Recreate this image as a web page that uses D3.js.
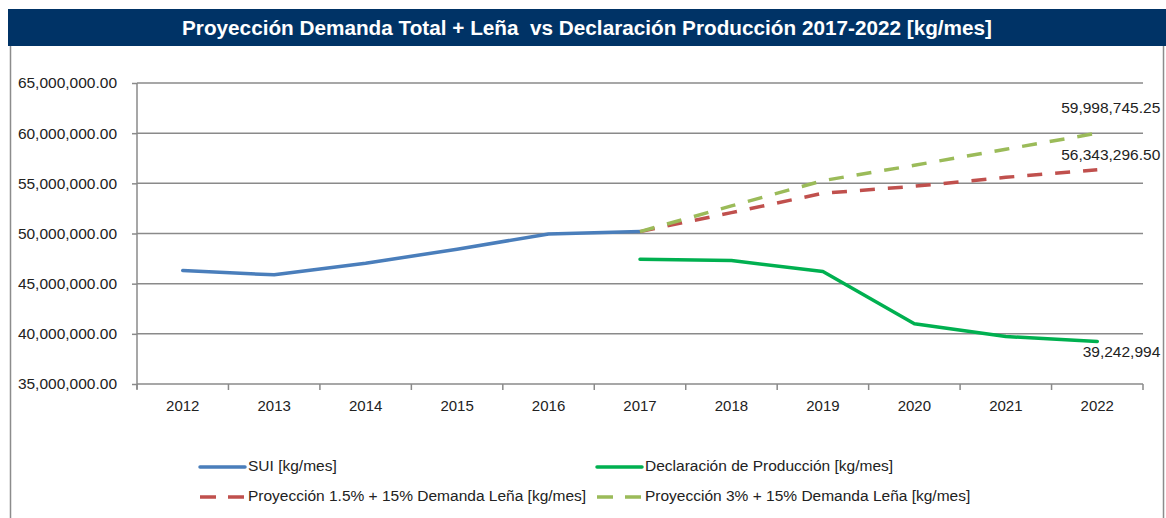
<!DOCTYPE html>
<html><head><meta charset="utf-8">
<script src="https://cdn.jsdelivr.net/npm/d3@7"></script>
<style>
html,body{margin:0;padding:0;background:#fff;}
svg{display:block;}
text{font-family:"Liberation Sans",Arial,sans-serif;}
</style></head>
<body>
<svg id="c" width="1166" height="518"></svg>
<script>
const years = [2012,2013,2014,2015,2016,2017,2018,2019,2020,2021,2022];
const sui = [46310000,45880000,47040000,48430000,49960000,50190000,null,null,null,null,null];
const declaracion = [null,null,null,null,null,47440000,47300000,46210000,41000000,39730000,39242994];
const proy15 = [null,null,null,null,null,50190000,52080000,54010000,54710000,55600000,56343296.50];
const proy3 = [null,null,null,null,null,50190000,52750000,55270000,56800000,58400000,59998745.25];
const yTicks = [35000000,40000000,45000000,50000000,55000000,60000000,65000000];
const titleText = "Proyección Demanda Total + Leña  vs Declaración Producción 2017-2022 [kg/mes]";
const endLabels = [
  {series:"proy3", text:"59,998,745.25", dy:-24},
  {series:"proy15", text:"56,343,296.50", dy:-14},
  {series:"declaracion", text:"39,242,994", dy:11}
];

const series = [
  {key:"sui", name:"SUI [kg/mes]", values:sui, color:"#4A7EBB", dash:null},
  {key:"declaracion", name:"Declaración de Producción [kg/mes]", values:declaracion, color:"#00B050", dash:null},
  {key:"proy15", name:"Proyección 1.5% + 15% Demanda Leña [kg/mes]", values:proy15, color:"#C0504D", dash:"15,13"},
  {key:"proy3", name:"Proyección 3% + 15% Demanda Leña [kg/mes]", values:proy3, color:"#9BBB59", dash:"15,13"}
];
const drawOrder = ["sui","proy15","proy3","declaracion"];

const svg = d3.select("#c");
const FS = 15.5;

// frame
svg.append("rect").attr("x",10.5).attr("y",40).attr("width",1153).attr("height",490)
  .attr("fill","#fff").attr("stroke","#8c8c8c").attr("stroke-width",1.5);
// header
svg.append("rect").attr("x",8).attr("y",9).attr("width",1158).attr("height",37).attr("fill","#003366");
svg.append("text").attr("x",587).attr("y",35).attr("text-anchor","middle")
  .attr("fill","#fff").attr("font-weight","bold").attr("font-size",20)
  .attr("textLength",810).attr("lengthAdjust","spacingAndGlyphs")
  .style("white-space","pre").text(titleText);

const x = d3.scaleBand().domain(years).range([137,1143]).padding(0);
const cx = d => x(d) + x.bandwidth()/2;
const y = d3.scaleLinear().domain([35000000,65000000]).range([384,83]);

// gridlines
svg.append("g").selectAll("line").data(yTicks.slice(1)).join("line")
  .attr("x1",137).attr("x2",1143).attr("y1",d=>y(d)).attr("y2",d=>y(d))
  .attr("stroke","#8a8a8a").attr("stroke-width",1.5);

const fmt = d3.format(",.2f");
const yAxis = svg.append("g").attr("transform","translate(137,0)")
  .call(d3.axisLeft(y).tickValues(yTicks).tickFormat(fmt).tickSize(5).tickPadding(15));
yAxis.select(".domain").attr("stroke","#8a8a8a").attr("stroke-width",1.5).attr("d","M0,83V389");
yAxis.selectAll(".tick line").attr("stroke","#8a8a8a").attr("stroke-width",1.5);
yAxis.selectAll(".tick text").attr("font-size",FS).attr("fill","#222").attr("font-family","Liberation Sans, Arial, sans-serif");

const xAxis = svg.append("g").attr("transform","translate(0,384)")
  .call(d3.axisBottom(x).tickSize(0).tickPadding(16));
xAxis.select(".domain").attr("stroke","#8a8a8a").attr("stroke-width",1.5).attr("d","M137,0H1143");
xAxis.selectAll(".tick text").attr("font-size",15).attr("fill","#222").attr("font-family","Liberation Sans, Arial, sans-serif");
// category boundary ticks
svg.append("g").selectAll("line").data(years.concat(["end"])).join("line")
  .attr("x1",(d,i)=>137 + i*x.bandwidth()).attr("x2",(d,i)=>137 + i*x.bandwidth())
  .attr("y1",384).attr("y2",390).attr("stroke","#8a8a8a").attr("stroke-width",1.5);

const line = d3.line().defined(d=>d.v!=null).x(d=>cx(d.yr)).y(d=>y(d.v));
drawOrder.forEach(k=>{
  const s = series.find(z=>z.key===k);
  const pts = years.map((yr,i)=>({yr, v:s.values[i]}));
  svg.append("path").datum(pts).attr("d",line)
    .attr("fill","none").attr("stroke",s.color).attr("stroke-width",3.5)
    .attr("stroke-linejoin","round").attr("stroke-linecap",s.dash?"butt":"round")
    .attr("stroke-dasharray",s.dash);
});

// end labels
endLabels.forEach(l=>{
  const s = series.find(z=>z.key===l.series);
  const last = years.length-1;
  svg.append("text").attr("x",cx(years[last])+63).attr("y",y(s.values[last])+l.dy)
    .attr("text-anchor","end").attr("dominant-baseline","middle")
    .attr("font-size",FS).attr("fill","#222").text(l.text);
});

// legend
const legPos = [[200,467],[597,467],[200,497],[597,497]];
series.forEach((s,i)=>{
  const [lx,ly] = legPos[i];
  const g = svg.append("g");
  g.append("line").attr("x1",lx).attr("x2",lx+45).attr("y1",ly).attr("y2",ly)
    .attr("stroke",s.color).attr("stroke-width",3.5)
    .attr("stroke-dasharray",s.dash?"16,12":null).attr("stroke-linecap",s.dash?"butt":"round");
  g.append("text").attr("x",lx+48).attr("y",ly).attr("dominant-baseline","middle")
    .attr("font-size",FS).attr("fill","#222").text(s.name);
});
</script>
</body></html>
